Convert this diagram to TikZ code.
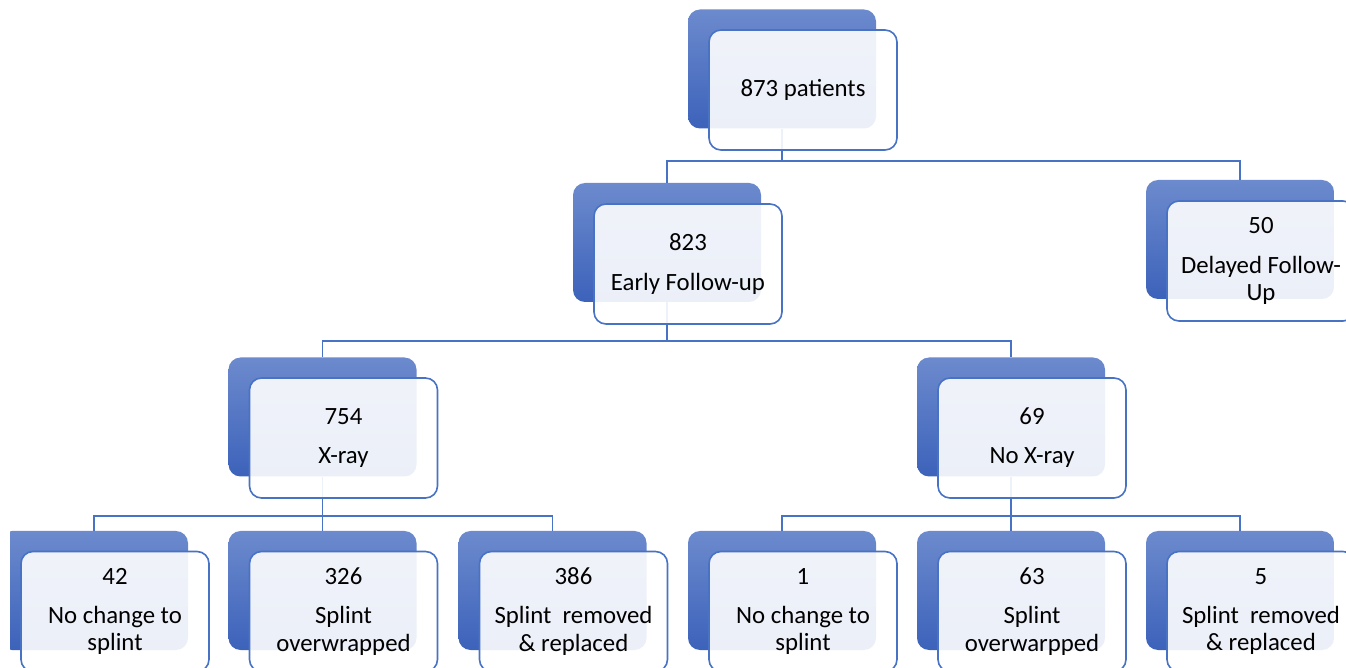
\documentclass[tikz,border=0pt]{standalone}
\usepackage{fontspec}
\setmainfont{Carlito}
\usepackage{xcolor}
\usetikzlibrary{calc,positioning}

\definecolor{edgeblue}{RGB}{72,114,196}
\definecolor{backtop}{RGB}{108,138,205}
\definecolor{backbot}{RGB}{60,98,186}

\tikzset{
	back/.style={rectangle, rounded corners=6pt, minimum width=94pt, minimum height=59.5pt,
		top color=backtop, bottom color=backbot, draw=none},
	front/.style={rectangle, rounded corners=6pt, minimum width=94pt, minimum height=60pt,
		draw=edgeblue, line width=0.8pt, fill=white, fill opacity=0.9, text opacity=1,
		align=center, font=\fontsize{12.4}{13.6}\selectfont},
	link/.style={draw=edgeblue, line width=0.8pt}
}

\begin{document}
\begin{tikzpicture}[x=0.5pt,y=-0.5pt]
		\path[use as bounding box] (0,0) rectangle (1346,668);
		\clip (10,0) rectangle (1346,668);
		% back boxes
		\node[back] (pb) at (782,69) {};
		\node[back] (eb) at (667,242.5) {};
		\node[back] (db) at (1240,239.5) {};
		\node[back] (xb) at (322.5,417) {};
		\node[back] (nb) at (1011,417) {};
		\node[back] (xab) at (94,590.5) {};
		\node[back] (xbb) at (322.5,590.5) {};
		\node[back] (xcb) at (552.5,590.5) {};
		\node[back] (nab) at (782,590.5) {};
		\node[back] (nbb) at (1011,590.5) {};
		\node[back] (ncb) at (1240,590.5) {};
		% connectors
		\coordinate (bar1) at (0,161);
		\coordinate (bar2) at (0,341);
		\coordinate (bar3) at (0,516);
		\draw[link] (pb.south) -- (pb.south |- bar1) -| (eb.north);
		\draw[link] (pb.south |- bar1) -| (db.north);
		\draw[link] (eb.south) -- (eb.south |- bar2) -| (xb.north);
		\draw[link] (eb.south |- bar2) -| (nb.north);
		\draw[link] (xb.south) -- (xbb.north);
		\draw[link] (xab.north) |- (xb.south |- bar3) -| (xcb.north);
		\draw[link] (nb.south) -- (nbb.north);
		\draw[link] (nab.north) |- (nb.south |- bar3) -| (ncb.north);
		% front boxes
		\node[front] (p) at (803,90) {873 patients};
		\node[front] (e) at (688,264) {823\\[6pt]Early Follow-up};
		\node[front] (d) at (1261,261) {50\\[6pt]Delayed Follow-\\Up};
		\node[front] (x) at (343.5,438) {754\\[6pt]X-ray};
		\node[front] (n) at (1032,438) {69\\[6pt]No X-ray};
		\node[front] (xa) at (115,611.5) {42\\[6pt]No change to\\splint};
		\node[front] (xbx) at (343.5,611.5) {326\\[6pt]Splint\\overwrapped};
		\node[front] (xc) at (573.5,611.5) {386\\[6pt]Splint\ \ removed\\\&~replaced};
		\node[front] (na) at (803,611.5) {1\\[6pt]No change to\\splint};
		\node[front] (nbx) at (1032,611.5) {63\\[6pt]Splint\\overwarpped};
		\node[front] (nc) at (1261,611.5) {5\\[6pt]Splint\ \ removed\\\&~replaced};
		\end{tikzpicture}
\end{document}
